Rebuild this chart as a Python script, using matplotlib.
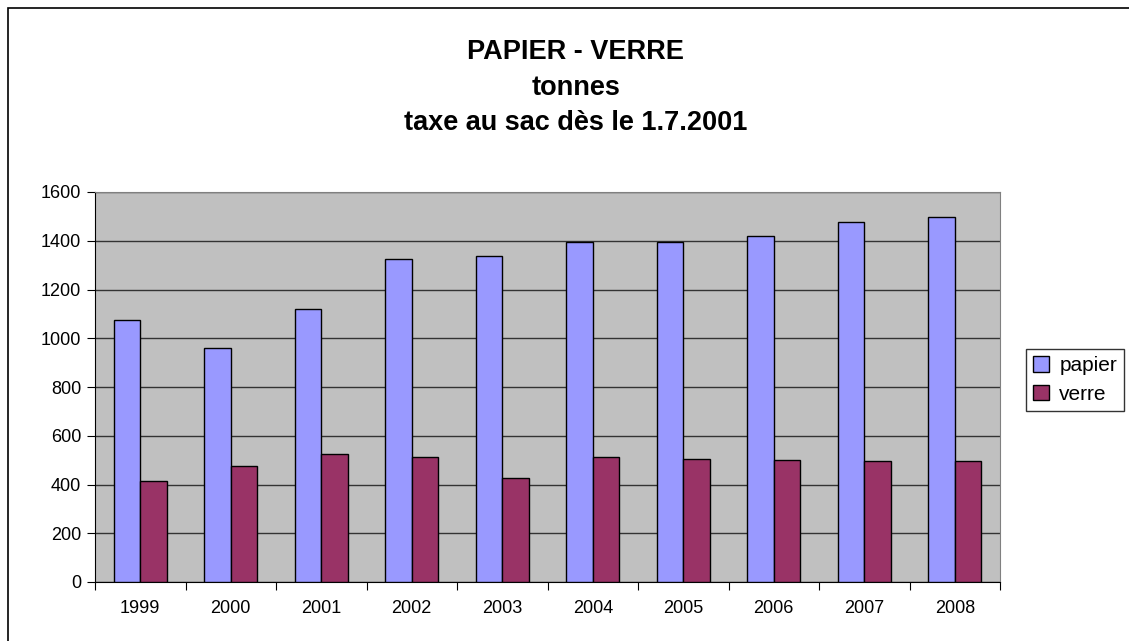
import numpy as np
import matplotlib
matplotlib.use('Agg')
import matplotlib.pyplot as plt
from matplotlib.patches import Rectangle

plt.rcParams['font.family'] = ['Liberation Sans', 'DejaVu Sans']

# données (tonnes)
annees = ['1999', '2000', '2001', '2002', '2003', '2004', '2005', '2006', '2007', '2008']
papier = [1074, 961, 1119, 1325, 1339, 1393, 1393, 1420, 1478, 1498]
verre = [415, 474, 527, 514, 427, 514, 505, 499, 495, 495]

fig = plt.figure(figsize=(11.29, 6.41), dpi=100)
ax = fig.add_axes([95 / 1129, 1 - 582 / 641, 905 / 1129, 390 / 641])
ax.set_facecolor('#C0C0C0')

x = np.arange(len(annees))
w = 0.295
ax.bar(x - w / 2, papier, w, color='#9999FF', edgecolor='black', linewidth=1, label='papier', zorder=3)
ax.bar(x + w / 2, verre, w, color='#993366', edgecolor='black', linewidth=1, label='verre', zorder=3)

ax.set_xlim(-0.5, len(annees) - 0.5)
ax.set_ylim(0, 1600)
ax.set_yticks(range(0, 1601, 200))
ax.yaxis.grid(True, color='#333333', linewidth=1, zorder=1)
ax.set_axisbelow(True)

# graduations entre les catégories
ax.set_xticks(np.arange(len(annees) + 1) - 0.5)
ax.set_xticklabels([])
ax.set_xticks(x, minor=True)
ax.set_xticklabels(annees, minor=True)
ax.tick_params(axis='x', which='minor', length=0, pad=13, labelsize=13)
ax.tick_params(axis='x', which='major', length=6, direction='out', color='black')
ax.tick_params(axis='y', length=6, direction='out', labelsize=13, pad=4)

for side in ['top', 'right']:
    ax.spines[side].set_color('#808080')
for side in ['left', 'bottom']:
    ax.spines[side].set_color('#000000')

titre = ['PAPIER - VERRE', 'tonnes', 'taxe au sac dès le 1.7.2001']
for ligne, ypix in zip(titre, [52, 88, 123]):
    fig.text(0.51, 1 - ypix / 641, ligne, ha='center', va='center', fontsize=19.5, fontweight='bold')

leg = ax.legend(loc='upper left', bbox_to_anchor=(1026 / 1129, 1 - 349 / 641),
                bbox_transform=fig.transFigure, frameon=True, fancybox=False,
                edgecolor='black', fontsize=15, handlelength=0.75, handleheight=0.75,
                handletextpad=0.5, borderpad=0.35, labelspacing=0.45, borderaxespad=0)
leg.get_frame().set_linewidth(1)

# cadre extérieur du graphique
fig.patches.append(Rectangle((8 / 1129, -0.05), 1.2, 1 - 8 / 641 + 0.05, transform=fig.transFigure,
                             fill=False, edgecolor='black', linewidth=1.2))

fig.savefig('out.png', dpi=100)
